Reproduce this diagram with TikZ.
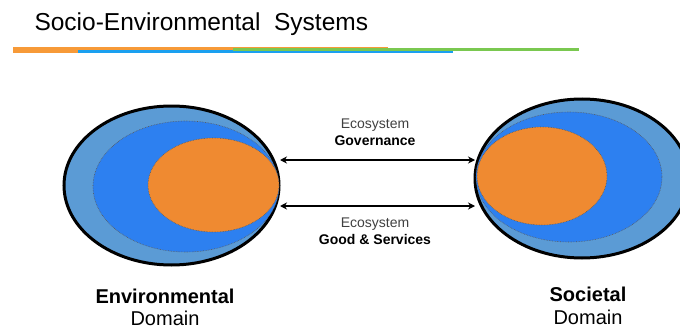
\documentclass[tikz,border=0pt]{standalone}
\usepackage{fontspec}
\setmainfont{Liberation Sans}
\usepackage{tikz}
\usetikzlibrary{arrows.meta}
\definecolor{outerblue}{HTML}{5B9BD5}
\definecolor{midblue}{HTML}{2D80F0}
\definecolor{coreorange}{HTML}{EF8A31}
\definecolor{barorange}{HTML}{F79A38}
\definecolor{barblue}{HTML}{1AA0F0}
\definecolor{bargreen}{HTML}{7AC850}
\begin{document}
\begin{tikzpicture}[x=1pt,y=-1pt,
    outerring/.style={fill=outerblue,draw=black,line width=3pt},
    midring/.style={fill=midblue,draw=black!65,densely dotted,line width=0.6pt},
    core/.style={fill=coreorange,draw=black!65,densely dotted,line width=0.6pt},
    link/.style={{Stealth[length=7pt,width=7pt]}-{Stealth[length=7pt,width=7pt]},line width=1.8pt},
    smalltxt/.style={anchor=base,font=\fontsize{14}{16}\selectfont},
    bigtxt/.style={anchor=base,font=\fontsize{20}{24}\selectfont}]
	\useasboundingbox (0,0) rectangle (680,329);
	% title and coloured bars
	\node[anchor=base west,font=\fontsize{24.5}{28}\selectfont] (title) at (31,31) {Socio-Environmental\ \ Systems};
	\fill[barorange] (13,47) rectangle (78,53);
	\fill[barorange] (78,47) rectangle (388,50);
	\fill[barblue] (78,50) rectangle (453,53);
	\fill[bargreen] (233,48) rectangle (579,51);
	% environmental domain
	\draw[outerring] (171.5,185.5) ellipse [x radius=107.5pt, y radius=79.5pt];
	\draw[midring] (186,186.5) ellipse [x radius=93pt, y radius=65.5pt];
	\draw[core] (213.5,185) ellipse [x radius=65.5pt, y radius=47pt];
	% societal domain
	\draw[outerring] (582,178.5) ellipse [x radius=107pt, y radius=79.5pt];
	\draw[midring] (569,177) ellipse [x radius=93pt, y radius=65pt];
	\draw[core] (542,176) ellipse [x radius=65pt, y radius=49pt];
	% links
	\coordinate (envtop) at (280,160);
	\coordinate (soctop) at (475,160);
	\coordinate (envlow) at (280,206);
	\coordinate (soclow) at (475,206);
	\draw[link] (envtop) -- (soctop);
	\draw[link] (envlow) -- (soclow);
	\node[smalltxt,text=black!75] (govword) at (375,128) {Ecosystem};
	\node[smalltxt,font=\fontsize{14}{16}\selectfont\bfseries] (govname) at (375,145) {Governance};
	\node[smalltxt,text=black!75] (goodword) at (375,227) {Ecosystem};
	\node[smalltxt,font=\fontsize{14}{16}\selectfont\bfseries] (goodname) at (375,244) {Good \& Services};
	% domain labels
	\node[bigtxt,font=\fontsize{20}{24}\selectfont\bfseries] (envname) at (165,303) {Environmental};
	\node[bigtxt] (envdom) at (165,325) {Domain};
	\node[bigtxt,font=\fontsize{20}{24}\selectfont\bfseries] (socname) at (588,301) {Societal};
	\node[bigtxt] (socdom) at (588,324) {Domain};
\end{tikzpicture}
\end{document}
